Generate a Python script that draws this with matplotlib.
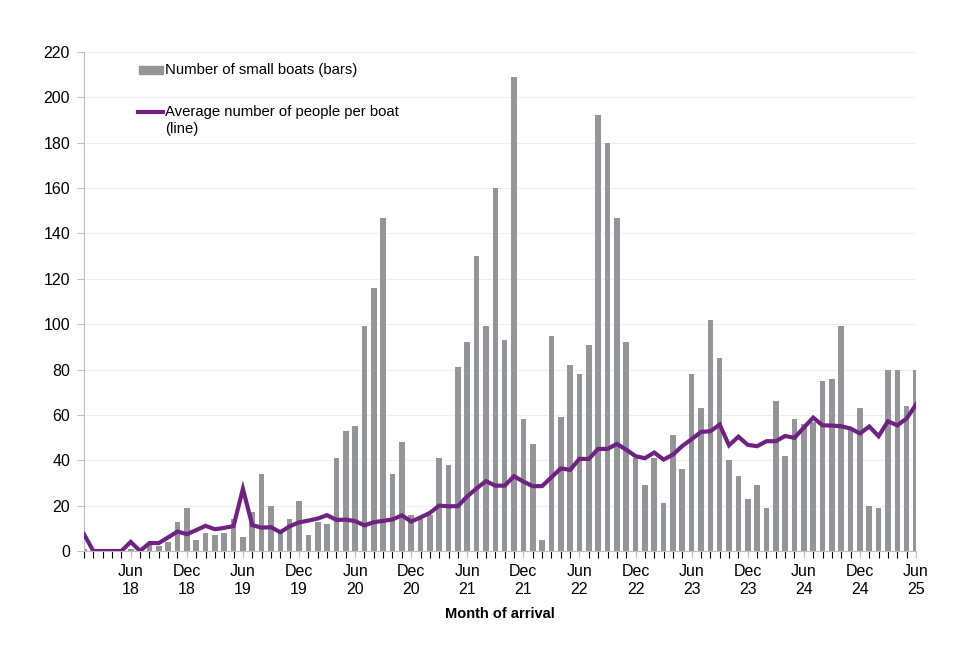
import matplotlib.pyplot as plt
import numpy as np

plt.rcParams['font.family'] = ['Liberation Sans', 'DejaVu Sans']

# monthly, Jan 2018 .. Jun 2025
boats = [1, 0, 0, 0, 0, 1, 0, 3, 2, 4, 13, 19,
         5, 8, 7, 8, 14, 6, 17, 34, 20, 9, 14, 22,
         7, 13, 12, 41, 53, 55, 99, 116, 147, 34, 48, 16,
         14, 16, 41, 38, 81, 92, 130, 99, 160, 93, 209, 58,
         47, 5, 95, 59, 82, 78, 91, 192, 180, 147, 92, 41,
         29, 41, 21, 51, 36, 78, 63, 102, 85, 40, 33, 23,
         29, 19, 66, 42, 58, 56, 57, 75, 76, 99, 54, 63,
         20, 19, 80, 80, 64, 80]
people_per_boat = [7.4, 0, 0, 0, 0, 4, 0, 3.5, 3.5, 6, 8.6, 7.4,
                   9.2, 11.1, 9.6, 10.2, 11, 27.4, 11.4, 10.3, 10.5, 8.3, 10.9, 12.6,
                   13.4, 14.3, 15.8, 13.7, 13.8, 13.2, 11.3, 12.7, 13.3, 13.9, 15.7, 13.0,
                   14.8, 16.8, 20, 19.7, 19.8, 24.1, 27.6, 30.8, 28.8, 28.8, 33, 30.6,
                   28.6, 28.6, 32.5, 36.4, 35.8, 40.6, 40.6, 45, 45, 47.2, 44.7, 41.8,
                   40.9, 43.4, 40.3, 42.5, 46.3, 49.3, 52.5, 52.8, 55.7, 46.6, 50.4, 46.8,
                   46.2, 48.4, 48.4, 50.7, 49.9, 54.4, 58.8, 55.4, 55.3, 55, 54, 51.8,
                   54.9, 50.6, 57.2, 55.4, 58.4, 64.6]
tick_labels = ['Jun\n18', 'Dec\n18', 'Jun\n19', 'Dec\n19', 'Jun\n20', 'Dec\n20',
               'Jun\n21', 'Dec\n21', 'Jun\n22', 'Dec\n22', 'Jun\n23', 'Dec\n23',
               'Jun\n24', 'Dec\n24', 'Jun\n25']

x = np.arange(len(boats))
grey = '#939598'
purple = '#6f2282'

fig = plt.figure(figsize=(9.8, 6.53), dpi=100)
ax = fig.add_axes([0.0857, 0.1562, 0.8490, 0.7642])

ax.bar(x, boats, 0.6, color=grey, zorder=2)
ax.plot(x, people_per_boat, color=purple, linewidth=3, zorder=3,
        solid_joinstyle='miter')

ax.set_xlim(0, len(boats) - 1)
ax.set_ylim(0, 220)
ax.set_yticks(np.arange(0, 221, 20))
ax.set_xticks(np.arange(5, len(boats), 6))
ax.set_xticklabels(tick_labels, linespacing=1.3)
ax.set_xticks(x, minor=True)
ax.tick_params(axis='both', labelsize=11.5, colors='#bfbfbf', labelcolor='black')
ax.tick_params(axis='x', which='both', length=5, width=0.8, pad=4)
ax.tick_params(axis='y', length=5, width=0.8, pad=5)

ax.grid(axis='y', color='#eeeeee', linewidth=0.8)
ax.set_axisbelow(True)
for s in ['top', 'right']:
    ax.spines[s].set_visible(False)
ax.spines['left'].set_color('#bfbfbf')
ax.spines['bottom'].set_color('#bfbfbf')

ax.set_xlabel('Month of arrival', fontsize=10.5, fontweight='bold', labelpad=7)

# legend drawn by hand to mimic the original layout
ax.add_patch(plt.Rectangle((0.066, 0.956), 0.029, 0.016, transform=ax.transAxes,
                           color=grey, clip_on=False))
ax.text(0.0975, 0.964, 'Number of small boats (bars)', transform=ax.transAxes,
        fontsize=10.7, va='center', ha='left')
ax.plot([0.065, 0.095], [0.880, 0.880], transform=ax.transAxes, color=purple,
        linewidth=3, clip_on=False)
ax.text(0.0975, 0.880, 'Average number of people per boat', transform=ax.transAxes,
        fontsize=10.7, va='center', ha='left')
ax.text(0.0975, 0.846, '(line)', transform=ax.transAxes,
        fontsize=10.7, va='center', ha='left')

plt.savefig('out.png', dpi=100)
